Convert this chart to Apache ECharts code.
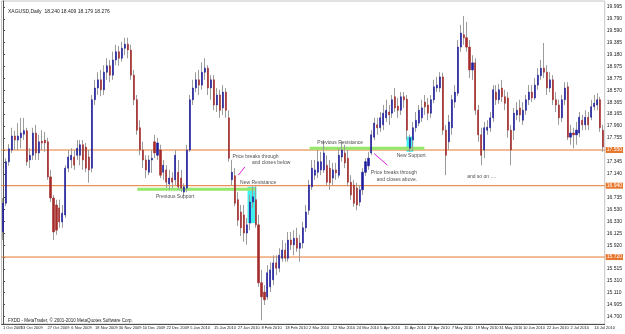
<!doctype html>
<html>
<head>
<meta charset="utf-8">
<title>XAGUSD Daily</title>
<script src="https://cdn.jsdelivr.net/npm/echarts@6/dist/echarts.min.js"></script>
<style>
    html, body { margin: 0; padding: 0; background: #fff; }
    #main { width: 625px; height: 334px; }
</style>
</head>
<body>
<div id="main"></div>
<script type="text/javascript">
    // daily bars: [open, close, low, high]
    var candles = [
        [16.15,16.64,16.01,16.73],[16.64,17.35,16.59,17.41],[17.35,17.57,17.28,17.65],[17.55,17.79,17.50,17.93],
        [17.79,17.72,17.55,17.88],[17.72,17.79,17.55,18.01],[17.76,17.84,17.58,18.10],[17.82,17.88,17.72,18.10],
        [17.88,17.35,17.28,17.93],[17.38,17.46,17.24,17.58],[17.46,17.84,17.38,17.93],[17.84,17.50,17.38,17.98],
        [17.50,17.69,17.38,17.81],[17.70,17.67,17.55,17.89],[17.72,17.67,17.52,17.86],[17.69,17.09,17.04,17.76],
        [17.09,16.73,16.66,17.21],[16.73,16.15,16.01,16.78],[16.61,16.18,16.10,16.70],[16.56,16.32,16.22,16.70],
        [16.32,16.47,16.22,16.61],[16.44,17.24,16.39,17.29],[17.24,17.43,17.17,17.55],[17.38,17.46,17.24,17.58],
        [17.43,17.29,17.21,17.55],[17.46,17.58,17.38,17.72],[17.46,17.64,17.29,17.72],[17.64,17.38,17.21,17.72],
        [17.60,17.24,17.17,17.67],[17.43,17.21,16.99,17.55],[17.24,18.41,17.17,18.49],[18.41,18.61,18.32,18.75],
        [18.61,18.75,18.49,18.88],[18.75,18.58,18.47,18.92],[18.58,18.88,18.49,19.00],[18.88,18.99,18.75,19.12],
        [18.99,18.83,18.71,19.09],[18.83,19.09,18.75,19.23],[19.09,19.23,19.00,19.35],[19.23,19.12,18.99,19.33],
        [19.12,19.29,19.06,19.40],[19.29,19.36,19.17,19.47],[19.36,19.26,19.12,19.47],[19.26,18.83,18.75,19.35],
        [18.83,18.41,18.32,18.92],[18.41,17.89,17.81,18.49],[17.93,17.55,17.46,18.06],[17.55,17.38,17.24,17.69],
        [17.38,17.21,17.07,17.46],[17.17,17.38,17.12,17.46],[17.38,17.41,17.16,17.55],[17.69,17.50,17.41,17.81],
        [17.46,17.67,17.38,17.76],[17.55,17.12,17.07,17.64],[17.17,17.29,17.04,17.38],[17.21,17.00,16.90,17.29],
        [16.97,17.07,16.87,17.21],[17.07,17.00,16.90,17.17],[17.04,17.46,16.95,17.55],[17.17,16.92,16.87,17.38],
        [17.07,16.90,16.83,17.21],[16.83,16.92,16.76,16.98],[16.90,17.55,16.83,17.64],[17.55,18.41,17.52,18.49],
        [18.41,18.61,18.32,18.75],[18.61,18.75,18.54,18.88],[18.75,18.66,18.49,18.92],[18.66,18.88,18.58,19.05],
        [18.88,18.95,18.75,19.12],[18.95,18.61,18.49,19.00],[18.61,18.75,18.41,18.83],[18.75,18.32,18.23,18.83],
        [18.32,18.49,18.20,18.61],[18.49,18.23,18.10,18.58],[18.27,18.54,18.15,18.66],[18.54,18.23,18.10,18.61],
        [18.10,17.41,17.35,18.23],[17.04,17.17,16.95,17.38],[17.11,16.64,16.59,17.24],[16.70,16.35,16.25,16.83],
        [16.49,16.22,16.08,16.61],[16.44,16.13,15.98,16.61],[16.13,16.27,15.93,16.39],[16.30,16.66,16.18,16.78],
        [16.66,16.75,16.56,16.93],[16.70,16.27,16.22,16.93],[16.27,15.28,15.21,16.44],[15.28,15.04,14.64,15.50],
        [15.12,14.99,14.90,15.24],[15.04,15.45,14.99,15.58],[15.21,15.50,15.12,15.63],[15.33,15.62,15.24,15.75],
        [15.62,15.53,15.41,15.75],[15.53,15.75,15.46,15.87],[15.70,15.84,15.64,16.01],[15.84,15.70,15.64,15.96],
        [15.70,16.01,15.64,16.15],[16.01,15.93,15.84,16.15],[15.93,16.04,15.75,16.18],[16.04,15.87,15.81,16.22],
        [15.87,15.96,15.64,16.10],[15.96,16.22,15.87,16.32],[16.22,16.49,16.15,16.61],[16.52,16.95,16.44,17.04],
        [16.92,17.24,16.87,17.38],[17.12,17.21,17.04,17.38],[17.17,17.35,17.07,17.55],[17.21,17.35,17.12,17.52],
        [17.21,17.50,17.16,17.72],[17.29,17.00,16.95,17.46],[17.24,16.99,16.87,17.38],[17.07,17.21,16.95,17.33],
        [17.21,17.16,17.04,17.33],[17.12,17.46,17.07,17.58],[17.43,17.55,17.35,17.69],[17.50,17.33,17.24,17.64],
        [17.41,17.00,16.93,17.55],[17.00,16.78,16.70,17.12],[16.95,16.64,16.58,17.04],[16.90,16.61,16.52,16.99],
        [16.66,16.87,16.59,16.95],[16.87,17.17,16.78,17.24],[17.17,17.35,17.11,17.41],[17.28,17.41,17.21,17.52],
        [17.50,17.81,17.46,17.89],[17.77,18.01,17.72,18.10],[17.98,17.93,17.81,18.10],[17.93,18.10,17.86,18.20],
        [17.98,18.18,17.89,18.32],[18.10,18.23,18.03,18.41],[18.20,18.15,17.98,18.32],[18.18,18.41,18.10,18.49],
        [18.46,18.27,18.20,18.61],[18.30,18.23,18.10,18.44],[18.23,18.46,18.15,18.54],[18.46,18.41,18.27,18.54],
        [18.42,17.89,17.72,18.49],[17.58,17.76,17.52,17.81],[17.72,17.93,17.55,18.03],[17.93,18.06,17.86,18.20],
        [18.01,18.23,17.96,18.32],[18.10,18.27,18.03,18.41],[18.37,18.29,18.15,18.49],[18.32,18.18,18.06,18.44],
        [18.18,18.41,18.10,18.49],[18.41,18.63,18.35,18.75],[18.61,18.66,18.54,18.80],[18.61,18.80,18.54,18.88],
        [18.80,17.89,17.81,18.87],[17.89,17.46,17.12,17.98],[17.69,18.03,17.55,18.15],[17.93,18.41,17.81,18.49],
        [18.37,18.54,18.27,18.66],[18.52,19.31,18.47,19.43],[19.31,19.55,19.23,19.69],[19.52,19.47,19.35,19.84],
        [19.47,19.31,19.23,19.74],[19.31,18.92,18.78,19.43],[18.92,19.04,18.75,19.17],[19.04,18.23,18.15,19.12],
        [18.23,17.81,17.69,18.32],[17.81,17.46,17.29,17.93],[17.55,17.93,17.41,18.03],[17.89,17.94,17.81,18.06],
        [17.93,18.10,17.86,18.20],[18.10,18.58,18.03,18.66],[18.54,18.41,18.32,18.66],[18.41,18.58,18.34,18.68],
        [18.61,18.46,18.37,18.75],[18.46,18.35,18.23,18.58],[18.44,17.89,17.76,18.54],[17.89,17.55,17.29,17.98],
        [17.89,18.18,17.72,18.27],[18.15,18.23,18.06,18.37],[18.27,18.15,18.03,18.41],[18.06,18.23,17.98,18.37],
        [18.23,18.41,18.15,18.49],[18.41,18.54,18.32,18.66],[18.54,18.44,18.37,18.66],[18.44,18.66,18.41,18.78],
        [18.66,18.83,18.58,18.95],[18.82,18.95,18.75,19.09],[18.95,18.88,18.78,19.38],[18.88,18.61,18.49,19.00],
        [18.61,18.75,18.54,18.88],[18.75,18.41,18.32,18.83],[18.41,18.32,18.20,18.54],[18.32,18.10,17.98,18.41],
        [18.10,18.41,18.03,18.49],[18.41,18.61,18.32,18.71],[18.63,17.77,17.72,18.71],[17.77,17.84,17.64,17.98],
        [17.84,17.81,17.58,17.93],[17.81,17.89,17.64,18.03],[17.84,18.11,17.77,18.20],[18.06,17.98,17.89,18.15],
        [17.98,18.11,17.89,18.23],[18.11,17.98,17.89,18.20],[18.11,18.29,18.06,18.41],[18.29,18.35,18.23,18.49],
        [18.32,18.41,18.23,18.52],[18.41,17.93,17.86,18.46],[17.89,17.60,17.52,17.98]
    ];

    // date scale: bar index -> label
    var dateLabelBars = [0, 6, 15, 23, 31, 39, 47, 55, 63, 71, 79, 87, 95, 103, 111, 119, 127, 135, 143, 151, 159, 167, 175, 183, 191, 199];
    var dateLabels = ['1 Oct 2009', '13 Oct 2009', '27 Oct 2009', '6 Nov 2009', '18 Nov 2009', '30 Nov 2009', '10 Dec 2009',
        '22 Dec 2009', '5 Jan 2010', '15 Jan 2010', '27 Jan 2010', '8 Feb 2010', '18 Feb 2010', '2 Mar 2010', '12 Mar 2010',
        '24 Mar 2010', '5 Apr 2010', '15 Apr 2010', '27 Apr 2010', '7 May 2010', '19 May 2010', '31 May 2010', '10 Jun 2010',
        '22 Jun 2010', '2 Jul 2010', '14 Jul 2010'];

    var priceTicks = [19.995, 19.790, 19.590, 19.385, 19.180, 18.975, 18.775, 18.570, 18.365, 18.165, 17.960, 17.755, 17.550,
        17.345, 17.140, 16.940, 16.735, 16.530, 16.330, 16.125, 15.920, 15.720, 15.515, 15.310, 15.110, 14.905, 14.700];

    // horizontal levels (orange)
    var levels = [17.550, 16.940, 15.720];
    // trend lines: [bar1, price1, bar2, price2]
    var supportLines = [[45.2, 16.88, 84.8, 16.88], [103.2, 17.58, 141.8, 17.58]];
    var arrowLines = [[81.4, 17.26, 79.2, 17.12], [124.9, 17.49, 129.4, 17.29]];
    // rectangles: [bar1, price1, bar2, price2]
    var boxes = [[82.3, 16.92, 85.3, 16.30], [135.8, 17.78, 138.1, 17.52]];
    // text objects: [bar, price, text]
    var notes = [
        [77.2, 17.43, 'Price breaks through'], [83.8, 17.33, 'and closes below'], [79.8, 16.99, 'New Resistance'],
        [51.5, 16.75, 'Previous Support'], [105.8, 17.67, 'Previous Resistance'], [132.5, 17.46, 'New Support'],
        [123.8, 17.17, 'Price breaks through'], [125.8, 17.05, 'and closes above.'], [156.2, 17.09, 'and so on ....']
    ];

    var header = 'XAGUSD,Daily  18.240 18.409 18.179 18.276';
    var footer = 'FXDD - MetaTrader, \u00a9 2001-2010 MetaQuotes Software Corp.';

    var bars = candles.map(function (c, i) { return i; });
    var bodies = candles.map(function (c) {
        return [c[0], c[1], Math.min(c[0], c[1]), Math.max(c[0], c[1])];
    });
    function hasLabel(i) { return dateLabelBars.indexOf(i) >= 0; }

    var orange = '#e8772e';
    var font = 'Liberation Sans';
    var lastBar = candles.length - 0.5;

    var series = [
        {
            type: 'custom', xAxisIndex: 1, z: 1, silent: true,
            data: boxes,
            renderItem: function (params, api) {
                var a = api.coord([api.value(0), api.value(1)]);
                var b = api.coord([api.value(2), api.value(3)]);
                return { type: 'rect', shape: { x: a[0], y: a[1], width: b[0] - a[0], height: b[1] - a[1] }, style: { fill: '#3ff0ee' } };
            }
        },
        {
            type: 'candlestick', z: 3, data: candles, barWidth: 1, silent: true,
            itemStyle: { color: '#9c9c9c', color0: '#9c9c9c', borderColor: '#9c9c9c', borderColor0: '#9c9c9c', borderWidth: 1 }
        },
        {
            type: 'candlestick', z: 4, data: bodies, barWidth: 1.6, silent: true,
            itemStyle: { color: '#1e1e9e', color0: '#a52a2a', borderColor: '#1e1e9e', borderColor0: '#a52a2a', borderWidth: 0.6 }
        }
    ];
    levels.forEach(function (v) {
        series.push({
            type: 'line', xAxisIndex: 1, z: 2, silent: true, symbol: 'none',
            lineStyle: { color: orange, width: 1 },
            data: [[-0.5, v], [lastBar, v]],
            endLabel: {
                show: true, distance: 1, formatter: function () { return v.toFixed(3); },
                backgroundColor: orange, color: '#fff', fontFamily: font, fontSize: 5, padding: [1, 1, 0, 1]
            }
        });
    });
    supportLines.forEach(function (l) {
        series.push({
            type: 'line', xAxisIndex: 1, z: 2, silent: true, symbol: 'none',
            lineStyle: { color: '#93e86c', width: 3 }, data: [[l[0], l[1]], [l[2], l[3]]]
        });
    });
    arrowLines.forEach(function (l) {
        series.push({
            type: 'line', xAxisIndex: 1, z: 5, silent: true, symbol: 'none',
            lineStyle: { color: '#e020e0', width: 1 }, data: [[l[0], l[1]], [l[2], l[3]]]
        });
    });
    series.push({
        type: 'scatter', xAxisIndex: 1, z: 6, silent: true, symbolSize: 0,
        data: notes,
        label: {
            show: true, position: 'right', distance: 0,
            formatter: function (p) { return p.data[2]; },
            fontFamily: font, fontSize: 5, color: '#222'
        }
    });

    var myChart = echarts.init(document.getElementById('main'));
    var option = {
        animation: false,
        backgroundColor: '#fff',
        title: [
            { text: header, left: 3, top: 4, textStyle: { fontFamily: font, fontSize: 5, fontWeight: 'normal', color: '#222' } },
            { text: footer, left: 3, top: 313, textStyle: { fontFamily: font, fontSize: 4.5, fontWeight: 'normal', color: '#222' } }
        ],
        grid: { left: 1, top: 1, right: 15, bottom: 10, show: true, borderColor: '#c4c4c4', borderWidth: 1 },
        xAxis: [
            {
                type: 'category', data: bars, boundaryGap: true,
                axisLine: { lineStyle: { color: '#505050', width: 1 } },
                axisTick: { alignWithLabel: true, length: 2, interval: function (i) { return hasLabel(i); }, lineStyle: { color: '#505050' } },
                axisLabel: {
                    interval: 0,
                    formatter: function (v, i) { return hasLabel(i) ? dateLabels[dateLabelBars.indexOf(i)] : ''; },
                    align: 'left', margin: 2, fontFamily: font, fontSize: 4, color: '#222'
                },
                splitLine: { show: false }
            },
            { type: 'value', min: -0.5, max: lastBar, show: false }
        ],
        yAxis: {
            type: 'value', position: 'right', min: 14.575, max: 20.098,
            axisLine: { show: true, lineStyle: { color: '#505050', width: 1 } },
            axisTick: { show: true, length: 2, customValues: priceTicks, lineStyle: { color: '#505050' } },
            axisLabel: {
                customValues: priceTicks, formatter: function (v) { return v.toFixed(3); },
                margin: 2, fontFamily: font, fontSize: 5, color: '#222'
            },
            splitLine: { show: false }
        },
        series: series
    };
    myChart.setOption(option);
</script>
</body>
</html>
